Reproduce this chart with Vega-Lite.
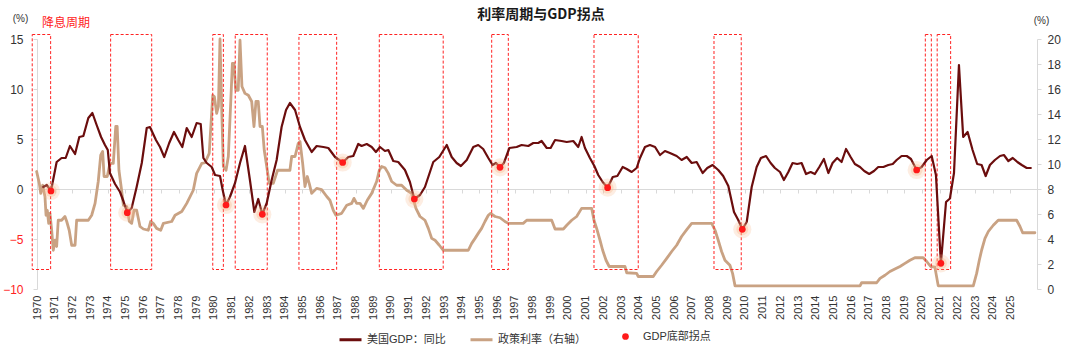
{
  "$schema": "https://vega.github.io/schema/vega-lite/v6.json",
  "width": 1000,
  "height": 250,
  "autosize": {"type": "none"},
  "padding": {"left": 37, "top": 39, "right": 43, "bottom": 65},
  "background": "white",
  "config": {
    "font": "Liberation Sans, Noto Sans CJK SC, sans-serif",
    "view": {"stroke": null},
    "axis": {"grid": false, "labelFont": "Liberation Sans, Noto Sans CJK SC, sans-serif"}
  },
  "title": {"text": "利率周期与GDP拐点", "fontSize": 14, "fontWeight": "bold", "color": "#1a1a1a", "anchor": "middle", "frame": "group", "font": "Noto Sans CJK SC", "dy": 13, "dx": 4},
  "datasets": {
    "gdp": [
      {"t":1970.36,"v":0.2},{"t":1970.55,"v":0.4},{"t":1970.79,"v":-0.2},{"t":1971.11,"v":2.7},{"t":1971.39,"v":3.1},{"t":1971.62,"v":3.1},{"t":1971.86,"v":4.3},{"t":1972.15,"v":3.5},{"t":1972.39,"v":5.2},{"t":1972.62,"v":5.3},{"t":1972.9,"v":7.1},{"t":1973.13,"v":7.6},{"t":1973.37,"v":6.4},{"t":1973.62,"v":5.2},{"t":1973.84,"v":4.4},{"t":1974.0,"v":3.9},{"t":1974.12,"v":1.6},{"t":1974.41,"v":0.5},{"t":1974.69,"v":-0.3},{"t":1974.88,"v":-1.2},{"t":1975.1,"v":-2.37},{"t":1975.35,"v":-1.9},{"t":1975.63,"v":0.2},{"t":1975.92,"v":2.6},{"t":1976.2,"v":6.1},{"t":1976.38,"v":6.2},{"t":1976.72,"v":4.9},{"t":1976.95,"v":4.2},{"t":1977.19,"v":3.2},{"t":1977.47,"v":4.6},{"t":1977.74,"v":5.7},{"t":1977.98,"v":4.9},{"t":1978.21,"v":4.2},{"t":1978.46,"v":6.1},{"t":1978.74,"v":5.2},{"t":1979.02,"v":6.6},{"t":1979.25,"v":6.5},{"t":1979.4,"v":3.1},{"t":1979.59,"v":2.6},{"t":1979.87,"v":2.2},{"t":1980.06,"v":1.4},{"t":1980.34,"v":1.3},{"t":1980.49,"v":-0.1},{"t":1980.68,"v":-1.6},{"t":1980.9,"v":-0.8},{"t":1981.19,"v":0.6},{"t":1981.47,"v":2.6},{"t":1981.75,"v":4.3},{"t":1982.03,"v":0.9},{"t":1982.28,"v":-2.3},{"t":1982.5,"v":-1.0},{"t":1982.73,"v":-2.53},{"t":1982.98,"v":-1.4},{"t":1983.26,"v":0.9},{"t":1983.54,"v":2.9},{"t":1983.82,"v":6.2},{"t":1984.07,"v":7.9},{"t":1984.29,"v":8.6},{"t":1984.58,"v":7.9},{"t":1984.86,"v":6.2},{"t":1985.14,"v":4.9},{"t":1985.52,"v":3.7},{"t":1985.8,"v":4.3},{"t":1986.18,"v":4.2},{"t":1986.46,"v":4.1},{"t":1986.84,"v":3.2},{"t":1987.27,"v":2.65},{"t":1987.59,"v":3.2},{"t":1987.87,"v":3.3},{"t":1988.15,"v":4.5},{"t":1988.34,"v":4.3},{"t":1988.63,"v":4.5},{"t":1988.91,"v":4.2},{"t":1989.15,"v":3.7},{"t":1989.38,"v":4.2},{"t":1989.66,"v":3.8},{"t":1989.85,"v":3.9},{"t":1990.13,"v":2.8},{"t":1990.41,"v":2.7},{"t":1990.79,"v":1.9},{"t":1991.07,"v":0.7},{"t":1991.32,"v":-1.0},{"t":1991.64,"v":-0.6},{"t":1991.92,"v":0.2},{"t":1992.39,"v":2.7},{"t":1992.73,"v":3.2},{"t":1993.15,"v":4.4},{"t":1993.43,"v":3.2},{"t":1993.71,"v":2.6},{"t":1993.95,"v":2.3},{"t":1994.28,"v":2.9},{"t":1994.65,"v":4.2},{"t":1994.93,"v":4.4},{"t":1995.21,"v":4.0},{"t":1995.5,"v":3.1},{"t":1995.74,"v":2.4},{"t":1995.93,"v":2.6},{"t":1996.16,"v":2.17},{"t":1996.38,"v":2.6},{"t":1996.69,"v":4.1},{"t":1997.1,"v":4.2},{"t":1997.38,"v":4.4},{"t":1997.76,"v":4.3},{"t":1998.04,"v":4.6},{"t":1998.32,"v":4.6},{"t":1998.51,"v":4.8},{"t":1998.8,"v":4.1},{"t":1999.02,"v":4.1},{"t":1999.27,"v":4.9},{"t":1999.64,"v":4.8},{"t":1999.93,"v":4.7},{"t":2000.3,"v":4.8},{"t":2000.58,"v":4.2},{"t":2000.77,"v":5.2},{"t":2000.96,"v":4.1},{"t":2001.24,"v":3.1},{"t":2001.49,"v":2.3},{"t":2001.71,"v":1.4},{"t":2001.96,"v":0.7},{"t":2002.24,"v":0.13},{"t":2002.53,"v":1.2},{"t":2002.79,"v":1.3},{"t":2003.09,"v":2.2},{"t":2003.32,"v":2.0},{"t":2003.6,"v":1.7},{"t":2003.88,"v":2.1},{"t":2004.07,"v":3.1},{"t":2004.35,"v":4.2},{"t":2004.63,"v":4.4},{"t":2004.92,"v":4.2},{"t":2005.2,"v":3.4},{"t":2005.48,"v":3.8},{"t":2005.76,"v":3.6},{"t":2006.14,"v":3.3},{"t":2006.42,"v":2.9},{"t":2006.71,"v":3.2},{"t":2006.99,"v":2.6},{"t":2007.27,"v":2.7},{"t":2007.61,"v":1.6},{"t":2007.87,"v":2.1},{"t":2008.17,"v":2.4},{"t":2008.49,"v":1.9},{"t":2008.77,"v":1.3},{"t":2009.06,"v":0.3},{"t":2009.38,"v":-2.3},{"t":2009.62,"v":-3.1},{"t":2009.85,"v":-4.03},{"t":2010.1,"v":-3.3},{"t":2010.38,"v":0.2},{"t":2010.66,"v":2.2},{"t":2010.9,"v":3.1},{"t":2011.19,"v":3.3},{"t":2011.45,"v":2.6},{"t":2011.69,"v":2.1},{"t":2011.98,"v":1.7},{"t":2012.2,"v":0.9},{"t":2012.45,"v":1.7},{"t":2012.69,"v":2.6},{"t":2012.95,"v":2.5},{"t":2013.2,"v":2.6},{"t":2013.45,"v":1.5},{"t":2013.71,"v":1.7},{"t":2013.95,"v":1.5},{"t":2014.2,"v":2.2},{"t":2014.46,"v":3.0},{"t":2014.71,"v":1.6},{"t":2014.95,"v":2.6},{"t":2015.21,"v":3.1},{"t":2015.46,"v":2.7},{"t":2015.71,"v":4.0},{"t":2015.97,"v":3.2},{"t":2016.21,"v":2.5},{"t":2016.5,"v":2.2},{"t":2016.74,"v":1.8},{"t":2017.02,"v":1.5},{"t":2017.29,"v":1.8},{"t":2017.53,"v":2.2},{"t":2017.82,"v":2.2},{"t":2018.1,"v":2.4},{"t":2018.35,"v":2.5},{"t":2018.57,"v":2.9},{"t":2018.85,"v":3.3},{"t":2019.14,"v":3.3},{"t":2019.38,"v":3.0},{"t":2019.7,"v":1.9},{"t":2019.98,"v":2.2},{"t":2020.27,"v":2.9},{"t":2020.55,"v":3.3},{"t":2020.79,"v":1.4},{"t":2021.07,"v":-7.43},{"t":2021.36,"v":-1.3},{"t":2021.58,"v":-0.95},{"t":2021.81,"v":1.6},{"t":2022.09,"v":12.4},{"t":2022.33,"v":5.2},{"t":2022.58,"v":5.7},{"t":2022.86,"v":3.9},{"t":2023.12,"v":2.5},{"t":2023.37,"v":2.4},{"t":2023.6,"v":1.3},{"t":2023.84,"v":2.4},{"t":2024.12,"v":2.9},{"t":2024.41,"v":3.3},{"t":2024.63,"v":3.4},{"t":2024.88,"v":2.8},{"t":2025.13,"v":3.1},{"t":2025.39,"v":2.7},{"t":2025.64,"v":2.4},{"t":2025.92,"v":2.1},{"t":2026.15,"v":2.1}
    ],
    "rate": [
      {"t":1969.98,"r":9.4},{"t":1970.13,"r":8.45},{"t":1970.21,"r":7.65},{"t":1970.32,"r":8.3},{"t":1970.45,"r":7.4},{"t":1970.51,"r":5.9},{"t":1970.58,"r":6.3},{"t":1970.66,"r":5.25},{"t":1970.73,"r":6.05},{"t":1970.83,"r":4.7},{"t":1970.92,"r":3.1},{"t":1971.02,"r":3.9},{"t":1971.11,"r":3.4},{"t":1971.2,"r":5.5},{"t":1971.39,"r":5.5},{"t":1971.58,"r":5.8},{"t":1971.68,"r":5.4},{"t":1971.82,"r":4.7},{"t":1971.96,"r":3.5},{"t":1972.15,"r":3.5},{"t":1972.24,"r":5.5},{"t":1972.9,"r":5.5},{"t":1973.09,"r":5.9},{"t":1973.28,"r":6.85},{"t":1973.46,"r":8.6},{"t":1973.6,"r":10.7},{"t":1973.71,"r":11.0},{"t":1973.79,"r":9.0},{"t":1973.97,"r":9.0},{"t":1974.12,"r":10.05},{"t":1974.31,"r":10.05},{"t":1974.45,"r":13.0},{"t":1974.53,"r":13.0},{"t":1974.63,"r":9.5},{"t":1974.78,"r":7.9},{"t":1974.88,"r":6.7},{"t":1975.07,"r":6.6},{"t":1975.22,"r":5.4},{"t":1975.35,"r":5.25},{"t":1975.48,"r":6.3},{"t":1975.63,"r":6.3},{"t":1975.82,"r":5.0},{"t":1976.01,"r":4.8},{"t":1976.29,"r":4.7},{"t":1976.42,"r":5.4},{"t":1976.57,"r":5.25},{"t":1976.76,"r":4.85},{"t":1976.99,"r":4.7},{"t":1977.14,"r":5.25},{"t":1977.61,"r":5.4},{"t":1977.8,"r":5.9},{"t":1978.18,"r":6.2},{"t":1978.46,"r":6.85},{"t":1978.83,"r":7.9},{"t":1979.02,"r":9.25},{"t":1979.31,"r":10.05},{"t":1979.49,"r":10.1},{"t":1979.73,"r":10.85},{"t":1979.93,"r":15.5},{"t":1980.02,"r":15.4},{"t":1980.15,"r":14.05},{"t":1980.25,"r":14.6},{"t":1980.34,"r":20.0},{"t":1980.44,"r":14.2},{"t":1980.53,"r":9.8},{"t":1980.68,"r":9.5},{"t":1980.81,"r":10.6},{"t":1980.96,"r":15.4},{"t":1981.04,"r":18.05},{"t":1981.13,"r":18.05},{"t":1981.23,"r":15.9},{"t":1981.37,"r":15.9},{"t":1981.47,"r":19.9},{"t":1981.58,"r":16.2},{"t":1981.75,"r":15.65},{"t":1981.94,"r":15.5},{"t":1982.13,"r":15.0},{"t":1982.26,"r":13.0},{"t":1982.37,"r":15.0},{"t":1982.5,"r":15.0},{"t":1982.6,"r":13.0},{"t":1982.73,"r":13.0},{"t":1982.84,"r":11.1},{"t":1982.98,"r":9.8},{"t":1983.12,"r":8.45},{"t":1983.35,"r":8.45},{"t":1983.59,"r":9.5},{"t":1983.9,"r":9.5},{"t":1984.29,"r":9.5},{"t":1984.39,"r":10.6},{"t":1984.58,"r":10.6},{"t":1984.76,"r":11.65},{"t":1984.86,"r":11.8},{"t":1985.01,"r":10.05},{"t":1985.14,"r":8.2},{"t":1985.27,"r":9.0},{"t":1985.38,"r":8.45},{"t":1985.52,"r":7.65},{"t":1985.8,"r":8.05},{"t":1986.08,"r":7.95},{"t":1986.37,"r":7.4},{"t":1986.55,"r":7.1},{"t":1986.74,"r":6.3},{"t":1986.89,"r":5.9},{"t":1987.21,"r":6.05},{"t":1987.5,"r":6.7},{"t":1987.78,"r":6.85},{"t":1987.91,"r":7.25},{"t":1988.06,"r":6.85},{"t":1988.25,"r":6.85},{"t":1988.44,"r":6.45},{"t":1988.66,"r":7.1},{"t":1988.91,"r":7.65},{"t":1989.19,"r":8.6},{"t":1989.34,"r":9.5},{"t":1989.47,"r":9.8},{"t":1989.66,"r":9.7},{"t":1989.85,"r":9.25},{"t":1990.04,"r":8.6},{"t":1990.32,"r":8.3},{"t":1990.6,"r":8.3},{"t":1990.89,"r":7.9},{"t":1991.17,"r":7.65},{"t":1991.41,"r":6.45},{"t":1991.64,"r":5.8},{"t":1991.92,"r":5.5},{"t":1992.11,"r":4.85},{"t":1992.3,"r":4.05},{"t":1992.49,"r":3.9},{"t":1992.73,"r":3.5},{"t":1992.95,"r":3.1},{"t":1994.37,"r":3.1},{"t":1994.56,"r":3.65},{"t":1994.75,"r":4.05},{"t":1994.93,"r":4.45},{"t":1995.12,"r":4.85},{"t":1995.31,"r":5.4},{"t":1995.5,"r":5.9},{"t":1995.63,"r":6.05},{"t":1995.88,"r":5.8},{"t":1996.16,"r":5.7},{"t":1996.44,"r":5.4},{"t":1996.63,"r":5.25},{"t":1997.47,"r":5.25},{"t":1997.67,"r":5.5},{"t":1999.08,"r":5.5},{"t":1999.27,"r":4.8},{"t":1999.74,"r":4.8},{"t":1999.93,"r":5.1},{"t":2000.21,"r":5.5},{"t":2000.49,"r":5.8},{"t":2000.77,"r":6.45},{"t":2001.34,"r":6.45},{"t":2001.47,"r":5.5},{"t":2001.62,"r":4.85},{"t":2001.81,"r":3.9},{"t":2001.96,"r":3.1},{"t":2002.15,"r":2.3},{"t":2002.33,"r":1.8},{"t":2003.22,"r":1.8},{"t":2003.32,"r":1.3},{"t":2003.88,"r":1.25},{"t":2003.97,"r":1.0},{"t":2004.82,"r":1.0},{"t":2005.01,"r":1.4},{"t":2005.29,"r":1.9},{"t":2005.58,"r":2.45},{"t":2005.86,"r":3.0},{"t":2006.14,"r":3.5},{"t":2006.42,"r":4.2},{"t":2006.71,"r":4.75},{"t":2006.99,"r":5.25},{"t":2008.12,"r":5.25},{"t":2008.31,"r":4.7},{"t":2008.49,"r":3.9},{"t":2008.68,"r":3.0},{"t":2008.87,"r":2.3},{"t":2009.15,"r":1.9},{"t":2009.3,"r":1.25},{"t":2009.44,"r":0.25},{"t":2016.5,"r":0.25},{"t":2016.59,"r":0.5},{"t":2017.44,"r":0.5},{"t":2017.63,"r":0.85},{"t":2017.91,"r":1.1},{"t":2018.19,"r":1.4},{"t":2018.47,"r":1.6},{"t":2018.76,"r":1.8},{"t":2019.04,"r":2.05},{"t":2019.32,"r":2.3},{"t":2019.6,"r":2.5},{"t":2020.07,"r":2.5},{"t":2020.27,"r":2.2},{"t":2020.49,"r":1.8},{"t":2020.73,"r":1.75},{"t":2020.92,"r":0.25},{"t":2022.9,"r":0.25},{"t":2023.09,"r":1.25},{"t":2023.24,"r":2.3},{"t":2023.37,"r":3.1},{"t":2023.56,"r":4.05},{"t":2023.75,"r":4.6},{"t":2024.03,"r":5.1},{"t":2024.31,"r":5.5},{"t":2025.35,"r":5.5},{"t":2025.54,"r":5.0},{"t":2025.69,"r":4.5},{"t":2026.38,"r":4.5}
    ],
    "troughs": [
      {"t":1970.79,"v":-0.2},{"t":1975.1,"v":-2.37},{"t":1980.68,"v":-1.6},{"t":1982.73,"v":-2.53},{"t":1987.27,"v":2.65},{"t":1991.32,"v":-1.0},{"t":1996.16,"v":2.17},{"t":2002.24,"v":0.13},{"t":2009.85,"v":-4.03},{"t":2019.7,"v":1.9},{"t":2021.07,"v":-7.43}
    ],
    "cuts": [
      {"t":1969.73,"t2":1970.77},{"t":1974.16,"t2":1976.48},{"t":1979.93,"t2":1980.53},{"t":1981.2,"t2":1983.01},{"t":1984.8,"t2":1986.93},{"t":1989.34,"t2":1992.95},{"t":1995.69,"t2":1996.63},{"t":2001.47,"t2":2003.97},{"t":2008.25,"t2":2009.79},{"t":2020.19,"t2":2020.53},{"t":2020.86,"t2":2021.62}
    ],
    "note": [{"t":1970.28,"v":16.6,"label":"降息周期"}]
  },
  "encoding": {
    "x": {
      "field": "t", "type": "quantitative",
      "scale": {"domain": [1970, 2026.5], "nice": false, "zero": false},
      "axis": {
        "values": [1970,1971,1972,1973,1974,1975,1976,1977,1978,1979,1980,1981,1982,1983,1984,1985,1986,1987,1988,1989,1990,1991,1992,1993,1994,1995,1996,1997,1998,1999,2000,2001,2002,2003,2004,2005,2006,2007,2008,2009,2010,2011,2012,2013,2014,2015,2016,2017,2018,2019,2020,2021,2022,2023,2024,2025],
        "format": "d", "labelAngle": -90, "offset": -100, "labelPadding": 102,
        "tickSize": 4, "tickColor": "#d9d9d9", "domainColor": "#d9d9d9", "domainWidth": 1,
        "labelColor": "#333333", "labelFontSize": 11, "labelFlush": false, "labelOverlap": false, "labelBound": false,
        "title": null, "grid": false
      }
    }
  },
  "layer": [
    {
      "data": {"name": "rate"},
      "mark": {"type": "line", "strokeWidth": 2.8, "strokeJoin": "round", "strokeCap": "round"},
      "encoding": {
        "y": {
          "field": "r", "type": "quantitative",
          "scale": {"domain": [0, 20], "nice": false, "zero": false},
          "axis": {"orient": "right", "values": [0,2,4,6,8,10,12,14,16,18,20], "tickSize": 4, "tickColor": "#d9d9d9", "domainColor": "#d9d9d9", "labelPadding": 6, "labelFontSize": 12, "labelColor": "#333333", "grid": false,
                   "title": "(%)", "titleAngle": 0, "titleX": 4, "titleY": -19, "titleAlign": "center", "titleBaseline": "middle", "titleFontSize": 10, "titleFontWeight": "normal", "titleColor": "#333333"}
        },
        "color": {"datum": "政策利率（右轴）"}
      }
    },
    {
      "layer": [
        {
          "data": {"name": "cuts"},
          "mark": {"type": "rect", "fill": null, "fillOpacity": 0, "stroke": "#ff2222", "strokeWidth": 1, "strokeDash": [3, 2]},
          "encoding": {
            "x2": {"field": "t2"},
            "y": {"datum": 15.45, "type": "quantitative"},
            "y2": {"datum": -8.05}
          }
        },
        {
          "data": {"name": "gdp"},
          "mark": {"type": "line", "strokeWidth": 2.2, "strokeJoin": "round", "strokeCap": "round"},
          "encoding": {
            "y": {
              "field": "v", "type": "quantitative",
              "scale": {"domain": [-10, 15], "nice": false, "zero": false},
              "axis": {"orient": "left", "values": [-10,-5,0,5,10,15], "tickSize": 4, "tickColor": "#d9d9d9", "domainColor": "#d9d9d9", "labelPadding": 10, "labelFontSize": 12,
                       "labelColor": {"condition": {"test": "datum.value < 0", "value": "#ff2222"}, "value": "#333333"}, "grid": false,
                       "title": "(%)", "titleAngle": 0, "titleX": -17, "titleY": -21, "titleAlign": "center", "titleBaseline": "middle", "titleFontSize": 10, "titleFontWeight": "normal", "titleColor": "#333333"}
            },
            "color": {
              "datum": "美国GDP：同比",
              "scale": {"domain": ["美国GDP：同比", "政策利率（右轴）"], "range": ["#6b0d0d", "#c9a283"]},
              "legend": {"orient": "none", "direction": "horizontal", "legendX": 301, "legendY": 288, "title": null,
                         "symbolType": "stroke", "symbolSize": 484, "symbolStrokeWidth": 3, "labelFontSize": 11, "labelColor": "#333333", "labelOffset": 4, "columnPadding": 18}
            }
          }
        },
        {
          "data": {"name": "troughs"},
          "mark": {"type": "circle", "size": 330, "color": "#f7b88a", "opacity": 0.25},
          "encoding": {"y": {"field": "v", "type": "quantitative"}}
        },
        {
          "data": {"name": "troughs"},
          "mark": {"type": "circle", "size": 140, "color": "#f7b88a", "opacity": 0.35},
          "encoding": {"y": {"field": "v", "type": "quantitative"}}
        },
        {
          "data": {"name": "troughs"},
          "mark": {"type": "point", "filled": true, "size": 45, "opacity": 1, "shape": "circle"},
          "encoding": {
            "y": {"field": "v", "type": "quantitative"},
            "fill": {"datum": "GDP底部拐点", "scale": {"range": ["#ff1a1a"]},
                     "legend": {"orient": "none", "direction": "horizontal", "legendX": 583, "legendY": 292, "title": null,
                                "symbolType": "circle", "symbolSize": 45, "labelFontSize": 11, "labelColor": "#333333", "labelOffset": 12}}
          }
        },
        {
          "data": {"name": "note"},
          "mark": {"type": "text", "align": "left", "baseline": "middle", "fontSize": 12, "color": "#ff2222", "font": "Noto Sans CJK SC"},
          "encoding": {
            "y": {"field": "v", "type": "quantitative"},
            "text": {"field": "label"}
          }
        }
      ]
    }
  ],
  "resolve": {"scale": {"y": "independent"}}
}
